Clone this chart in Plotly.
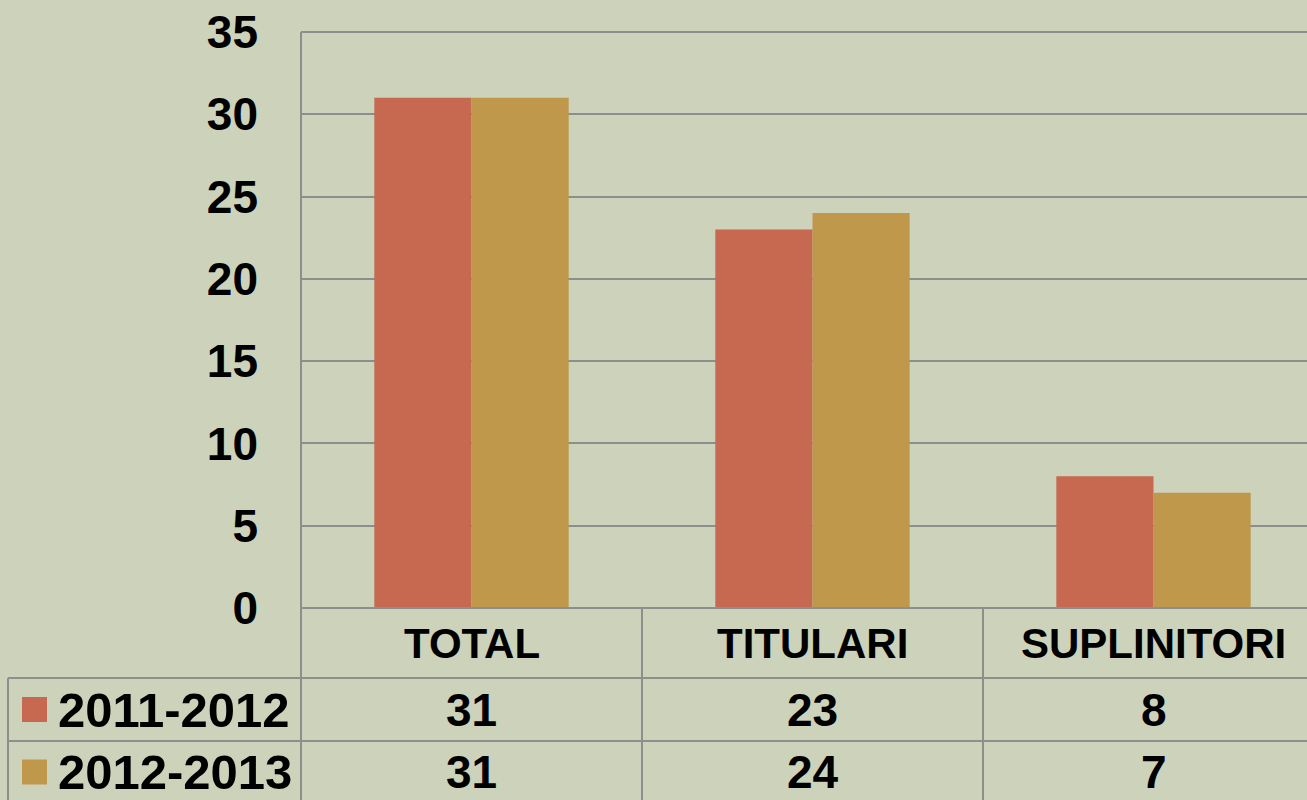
import plotly.graph_objects as go

categories = ["TOTAL", "TITULARI", "SUPLINITORI"]
series_names = ["2011-2012", "2012-2013"]
values_2011_2012 = [31, 23, 8]
values_2012_2013 = [31, 24, 7]
y_ticks = [0, 5, 10, 15, 20, 25, 30, 35]

series_values = [values_2011_2012, values_2012_2013]
colors = ["#C66950", "#BF984C"]
BG = "#CDD2BA"
GRID = "#8E8E8E"
W, H = 1307, 800
L, T, B_PX = 301, 32, 608  # plot area left, top, bottom pixel
CAT_W = 341.0
X0 = -0.5
X1 = X0 + (W - L) / CAT_W

def px_x(px):
    return (px - L) / (W - L)

def px_y(py):
    return (B_PX - py) / (B_PX - T)

def data_x(v):
    return px_x(L + (v - X0) * CAT_W)

fig = go.Figure()
for name, vals, col in zip(series_names, series_values, colors):
    fig.add_trace(go.Bar(x=categories, y=vals, name=name, marker=dict(color=col, line=dict(width=0)),
                         hoverinfo="skip"))

shapes = []
line = dict(color=GRID, width=2)
# top border and left axis line
shapes.append(dict(type="line", xref="paper", yref="paper", x0=0, x1=1, y0=1, y1=1, line=line))
shapes.append(dict(type="line", xref="paper", yref="paper", x0=0, x1=0, y0=1, y1=px_y(805), line=line))
# horizontal table lines
shapes.append(dict(type="line", xref="paper", yref="paper", x0=0, x1=1, y0=0, y1=0, line=line))
for py in [678, 741, 804]:
    shapes.append(dict(type="line", xref="paper", yref="paper", x0=px_x(8), x1=1, y0=px_y(py), y1=px_y(py), line=line))
# left legend column border
shapes.append(dict(type="line", xref="paper", yref="paper", x0=px_x(8), x1=px_x(8), y0=px_y(678), y1=px_y(805), line=line))
# category dividers
for k in range(len(categories) - 1):
    xv = data_x(k + 0.5)
    shapes.append(dict(type="line", xref="paper", yref="paper", x0=xv, x1=xv, y0=0, y1=px_y(805), line=line))
# legend swatches
row_centers = [709.5, 772]
for rc, col in zip(row_centers, colors):
    shapes.append(dict(type="rect", xref="paper", yref="paper", x0=px_x(22), x1=px_x(47),
                       y0=px_y(rc - 12.5), y1=px_y(rc + 12.5), fillcolor=col, line=dict(width=0)))

annotations = []
cat_font = dict(family="Liberation Sans Narrow, Arial Narrow, Liberation Sans, sans-serif", size=42, color="black")
val_font = dict(family="Liberation Sans, Arial, sans-serif", size=46, color="black")
for i, c in enumerate(categories):
    annotations.append(dict(x=data_x(i), y=px_y(643), xref="paper", yref="paper", text="<b>%s</b>" % c,
                            showarrow=False, font=cat_font, xanchor="center", yanchor="middle"))
for rc, name, vals in zip(row_centers, series_names, series_values):
    annotations.append(dict(x=px_x(56), y=px_y(rc), xref="paper", yref="paper", text="<b>%s</b>" % name,
                            showarrow=False, font=dict(val_font, size=49), xanchor="left", yanchor="middle"))
    for i, v in enumerate(vals):
        annotations.append(dict(x=data_x(i), y=px_y(rc), xref="paper", yref="paper", text="<b>%d</b>" % v,
                                showarrow=False, font=val_font, xanchor="center", yanchor="middle"))

fig.update_layout(
    width=W, height=H,
    margin=dict(l=L, r=0, t=T, b=H - B_PX, pad=0),
    paper_bgcolor=BG, plot_bgcolor=BG,
    barmode="group", bargap=0.43, bargroupgap=0,
    showlegend=False,
    shapes=shapes, annotations=annotations,
    xaxis=dict(range=[X0, X1], showticklabels=False, showgrid=False, zeroline=False, showline=False, ticks=""),
    yaxis=dict(range=[0, 35], tickvals=y_ticks, ticktext=["<b>%d</b>" % t for t in y_ticks],
               tickfont=dict(family="Liberation Sans, Arial, sans-serif", size=46, color="black"),
               showgrid=True, gridcolor=GRID, gridwidth=2, zeroline=False, showline=False,
               ticks="", ticklabelstandoff=42),
)
fig.write_html("out.html", config={"displayModeBar": False},
               post_script="document.body.style.margin='0';document.body.style.overflow='hidden';")
